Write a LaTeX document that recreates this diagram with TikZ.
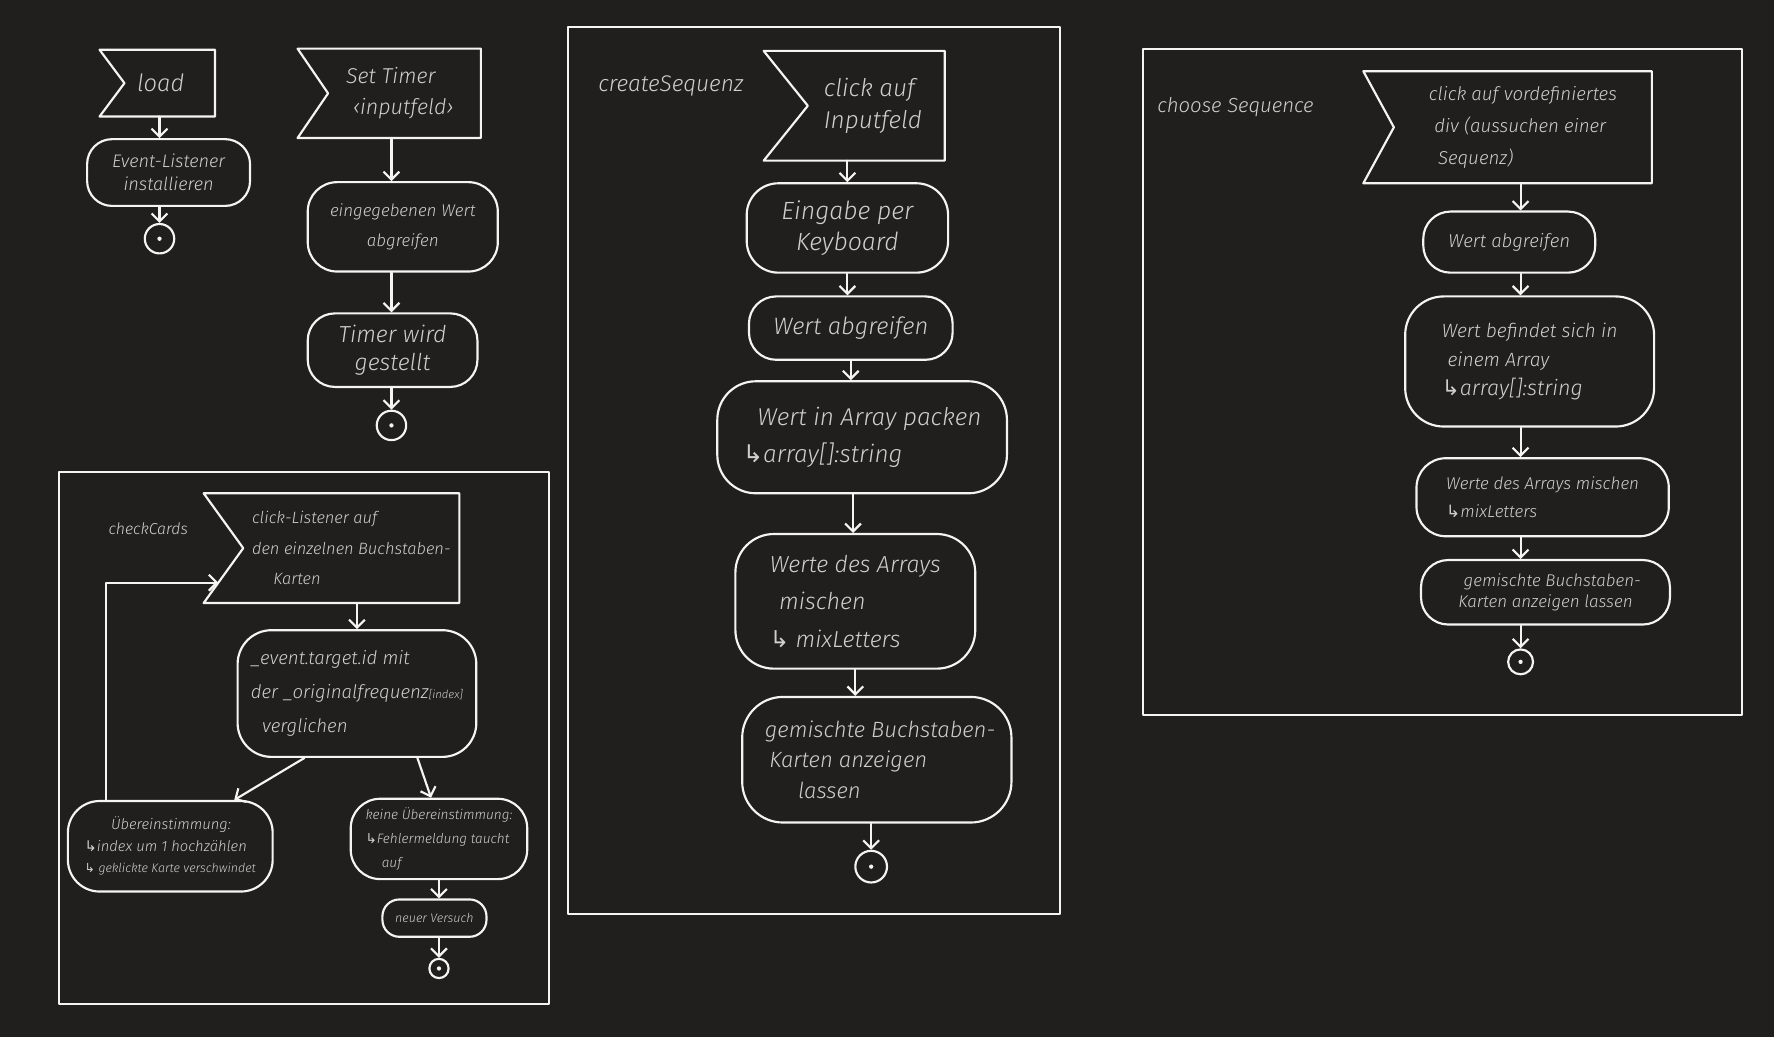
\documentclass[tikz,border=0pt]{standalone}
\usepackage{fontspec}
\usetikzlibrary{arrows.meta,calc}
\newfontfamily\hand{Fira Sans Light Italic}
\newfontfamily\djv{DejaVu Sans}
\newcommand\hf[2]{\hand\fontsize{#1}{#2}\selectfont}
\newcommand\hk{{\djv ↳}}
\definecolor{board}{HTML}{201F1E}
\definecolor{chalk}{HTML}{F4F4F4}
\definecolor{chalktext}{HTML}{CFCFCF}
% outline of an event flag: node is the part right of the notch, #2 = notch depth
\newcommand\flagline[2]{\draw[line] ([xshift=-#2]#1.north west) -- (#1.north east) -- (#1.south east) -- ([xshift=-#2]#1.south west) -- (#1.west) -- cycle;}
\tikzset{
  line/.style={draw=chalk, line width=1.9pt, line join=round, line cap=round},
  act/.style={line, rectangle, rounded corners=22pt, align=center, text=chalktext, inner sep=1pt},
  flagbox/.style={rectangle, inner sep=0pt, outer sep=0pt, align=left, text=chalktext},
  flow/.style={line, -{Straight Barb[length=7pt,width=14pt]}},
  endpt/.style={circle, line, minimum size=26pt, inner sep=0pt,
    path picture={\fill[chalk] (path picture bounding box.center) circle (1.9pt);}},
  frame/.style={line, line width=1.7pt, rectangle, inner sep=0pt, outer sep=0pt},
  lbl/.style={text=chalktext, inner sep=0pt}
}
\begin{document}
\begin{tikzpicture}[x=1pt,y=-1pt]
\fill[board] (0,0) rectangle (1568,917);
\useasboundingbox (0,0) rectangle (1568,917);

% ---------- load ----------
\node[flagbox, minimum width=80pt, minimum height=59pt, font=\hf{21}{24}] (load) at (150,73.5) {load\hspace*{16pt}};
\flagline{load}{22pt}
\node[act, minimum width=144pt, minimum height=59pt, font=\hf{16}{20}] (evt) at (149,152.5) {Event-Listener\\installieren};
\node[endpt] (end1) at (141,211) {};
\draw[flow] (load.south -| end1) -- (evt.north -| end1);
\draw[flow] (evt.south -| end1) -- (end1.north);

% ---------- Set Timer ----------
\node[flagbox, minimum width=135pt, minimum height=79pt, font=\hf{19}{27}] (timerflag) at (357.5,82.5) {Set Timer\\\hspace*{6pt}‹inputfeld›\hspace*{8pt}};
\flagline{timerflag}{27pt}
\node[act, minimum width=168pt, minimum height=79pt, rounded corners=26pt, font=\hf{15}{26}] (egw) at (356,200.5) {eingegebenen Wert\\abgreifen};
\node[act, minimum width=150pt, minimum height=65pt, rounded corners=24pt, font=\hf{20.5}{24}] (tws) at (347,309.5) {Timer wird\\gestellt};
\node[endpt] (end2) at (346,376) {};
\draw[flow] (timerflag.south -| end2) -- (egw.north -| end2);
\draw[flow] (egw.south -| end2) -- (tws.north -| end2);
\draw[flow] (tws.south -| end2) -- (end2.north);

% ---------- checkCards ----------
\node[frame, minimum width=433pt, minimum height=470pt] (fcheck) at (268.5,652) {};
\node[lbl, font=\hf{14}{16}] (lcheck) at (131,467) {checkCards};
\node[flagbox, minimum width=191pt, minimum height=97pt, font=\hf{14.5}{27}] (click) at (310.5,484.5) {click-Listener auf\\den einzelnen Buchstaben-\\\hspace*{1.3em}Karten};
\flagline{click}{35pt}
\node[act, minimum width=211pt, minimum height=112pt, rounded corners=30pt, align=left, font=\hf{16.5}{30}] (cmp) at (315.5,613) {\_event.target.id mit\\ der \_originalfrequenz{\fontsize{10}{10}\selectfont[index]}\\\hspace*{0.6em}verglichen};
\node[act, minimum width=181pt, minimum height=80pt, rounded corners=28pt, align=left, font=\hf{13}{19}] (ueb) at (150.5,748) {\hspace*{1.8em}Übereinstimmung:\\\hk index um 1 hochzählen\\{\fontsize{11}{19}\selectfont\hk\ geklickte Karte verschwindet}};
\node[act, minimum width=156pt, minimum height=71pt, rounded corners=26pt, align=left, font=\hf{12}{21}] (keine) at (388,741.5) {keine Übereinstimmung:\\\hk Fehlermeldung taucht\\\hspace*{1.2em}auf};
\node[act, minimum width=92pt, minimum height=33pt, rounded corners=15pt, font=\hf{11}{13}] (neuer) at (384,811.5) {neuer Versuch};
\node[endpt, minimum size=17pt] (end3) at (388,856) {};
\coordinate (loopin) at ($(click.west)!0.63!([xshift=-35pt]click.south west)$);
\draw[flow] (click.south -| cmp) -- (cmp.north);
\draw[flow] ([xshift=60pt]cmp.south west) -- ([xshift=148pt]ueb.north west);
\draw[flow] ([xshift=-53pt]cmp.south east) -- ([xshift=-7pt]keine.north);
\draw[flow] (keine.south) -- (keine.south |- neuer.north);
\draw[flow] (neuer.south -| end3) -- (end3.north);
\draw[flow] ([xshift=35pt]ueb.north west) |- (loopin);

% ---------- createSequenz ----------
\node[frame, minimum width=435pt, minimum height=784pt] (fcreate) at (719.5,416) {};
\node[lbl, font=\hf{20}{22}] (lcreate) at (593,76) {createSequenz};
\node[flagbox, minimum width=121pt, minimum height=97pt, font=\hf{21.5}{28}] (cflag) at (774.5,93.5) {click auf\\Inputfeld\hspace*{6pt}};
\flagline{cflag}{39pt}
\node[act, minimum width=178pt, minimum height=79pt, rounded corners=28pt, font=\hf{22}{27}] (eing) at (749,201.5) {Eingabe per\\Keyboard};
\node[act, minimum width=180pt, minimum height=56pt, rounded corners=24pt, font=\hf{21}{24}] (cwab) at (752,290) {Wert abgreifen};
\node[act, minimum width=256pt, minimum height=99pt, rounded corners=34pt, align=left, font=\hf{21.5}{33}] (wia) at (762,386.5) {\hspace*{0.6em}Wert in Array packen\\\hk array[]:string};
\node[act, minimum width=212pt, minimum height=119pt, rounded corners=34pt, align=left, font=\hf{20.5}{33}] (cwda) at (756,531.5) {Werte des Arrays\\\hspace*{0.4em}mischen\\\hk\ mixLetters};
\node[act, minimum width=238pt, minimum height=111pt, rounded corners=36pt, align=left, font=\hf{19.5}{27}] (cgem) at (775,671.5) {\hspace*{0.3em}gemischte Buchstaben-\\\hspace*{0.5em}Karten anzeigen\\\hspace*{1.8em}lassen};
\node[endpt, minimum size=28pt] (end4) at (770,766) {};
\draw[flow] (cflag.south -| eing) -- (eing.north);
\draw[flow] (eing.south) -- (eing.south |- cwab.north);
\draw[flow] (cwab.south) -- (cwab.south |- wia.north);
\draw[flow] ([xshift=-8pt]wia.south) -- ([xshift=-8pt]wia.south |- cwda.north);
\draw[flow] (cwda.south) -- (cwda.south |- cgem.north);
\draw[flow] (cgem.south -| end4) -- (end4.north);

% ---------- choose Sequence ----------
\node[frame, minimum width=530pt, minimum height=589pt] (fchoose) at (1275,337.5) {};
\node[lbl, font=\hf{18}{20}] (lchoose) at (1092,95) {choose Sequence};
\node[flagbox, minimum width=228pt, minimum height=99pt, font=\hf{16.5}{28}] (sflag) at (1346,112.5) {click auf vordefiniertes\\\hspace*{0.3em}div (aussuchen einer\\\hspace*{0.5em}Sequenz)};
\flagline{sflag}{27pt}
\node[act, minimum width=152pt, minimum height=54pt, rounded corners=24pt, font=\hf{16.5}{20}] (swab) at (1334,214) {Wert abgreifen};
\node[act, minimum width=220pt, minimum height=115pt, rounded corners=34pt, align=left, font=\hf{17}{26}] (swbs) at (1352,319.5) {Wert befindet sich in\\\hspace*{0.3em}einem Array\\{\fontsize{19}{33}\selectfont\hk array[]:string}};
\node[act, minimum width=223pt, minimum height=69pt, rounded corners=26pt, align=left, font=\hf{15}{25}] (swda) at (1363.5,439.5) {Werte des Arrays mischen\\\hk mixLetters};
\node[act, minimum width=220pt, minimum height=57pt, rounded corners=24pt, font=\hf{15}{19}] (sgem) at (1366,523.5) {\hspace*{0.8em}gemischte Buchstaben-\\Karten anzeigen lassen};
\node[endpt, minimum size=22pt] (end5) at (1344,585) {};
\draw[flow] (sflag.south -| end5) -- (swab.north -| end5);
\draw[flow] (swab.south -| end5) -- (swbs.north -| end5);
\draw[flow] (swbs.south -| end5) -- (swda.north -| end5);
\draw[flow] (swda.south -| end5) -- (sgem.north -| end5);
\draw[flow] (sgem.south -| end5) -- (end5.north);
\end{tikzpicture}
\end{document}
